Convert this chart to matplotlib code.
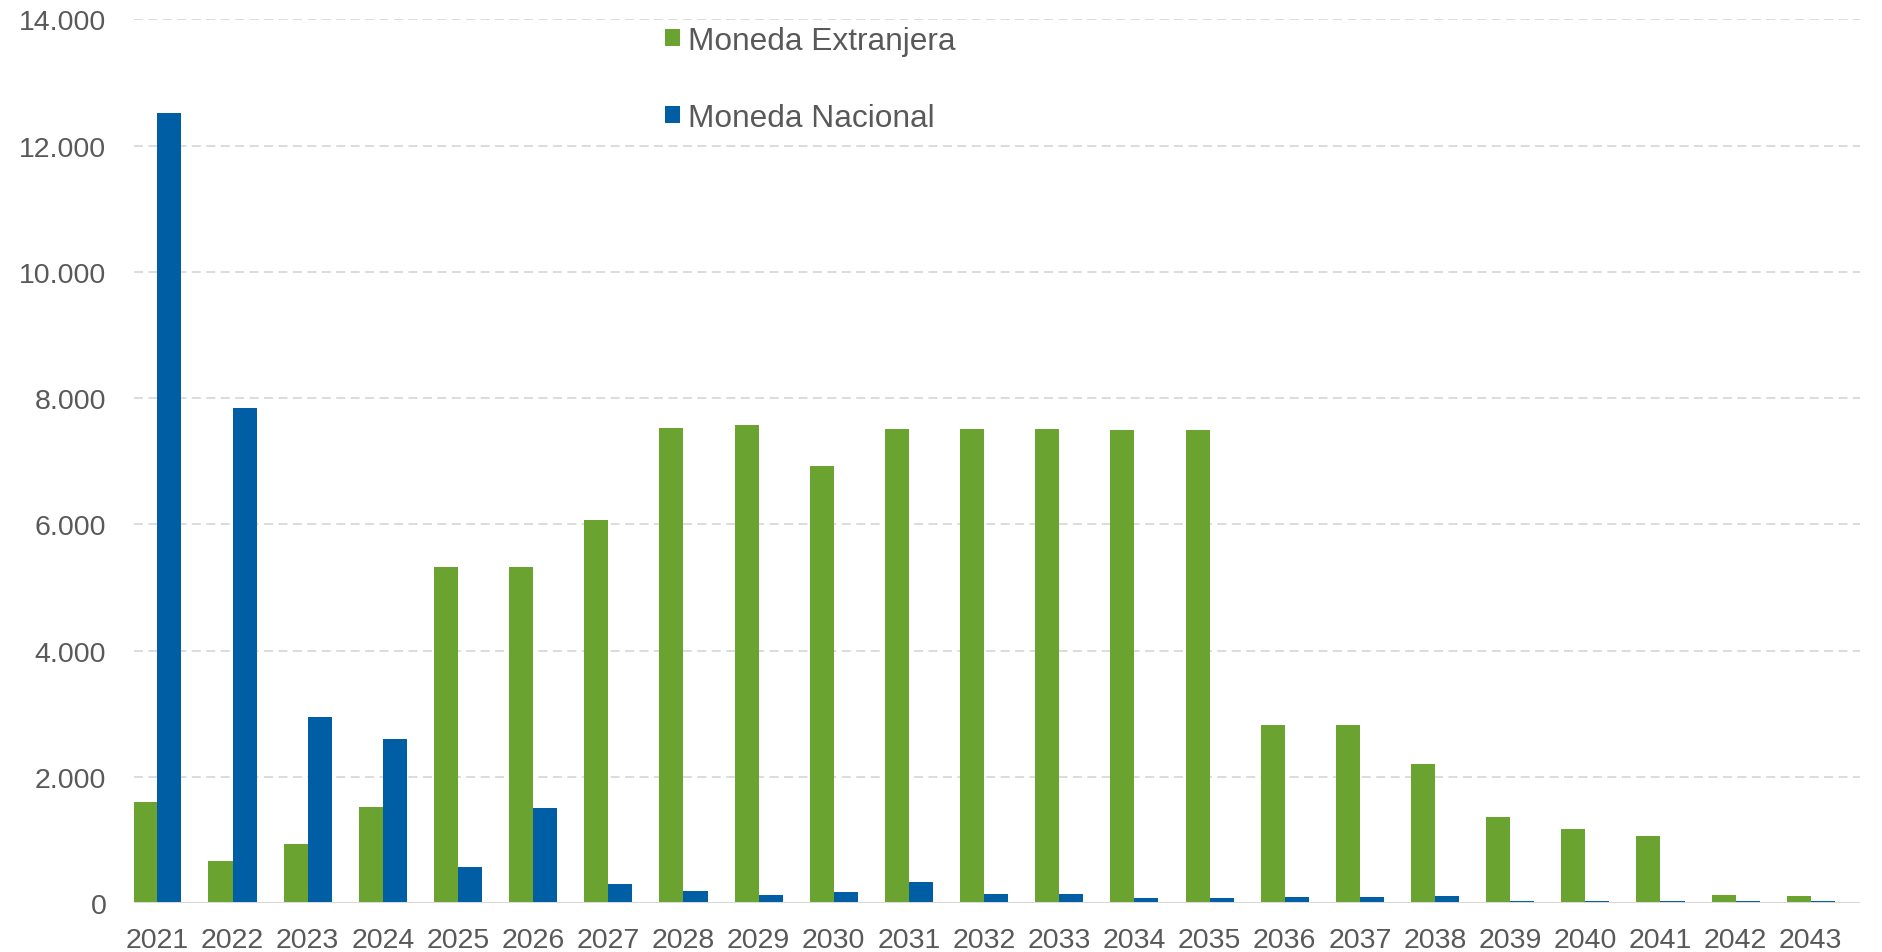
import numpy as np
import matplotlib
matplotlib.use("Agg")
import matplotlib.pyplot as plt
from matplotlib.ticker import FuncFormatter

plt.rcParams['font.family'] = ['Liberation Sans', 'DejaVu Sans']

years = [str(y) for y in range(2021, 2044)]
extranjera = [1600, 660, 930, 1520, 5325, 5325, 6065, 7530, 7570, 6920, 7515, 7515,
              7515, 7500, 7500, 2815, 2815, 2205, 1370, 1180, 1065, 130, 115]
nacional = [12515, 7840, 2945, 2605, 570, 1505, 300, 190, 120, 170, 340, 150,
            150, 75, 75, 95, 95, 115, 25, 25, 25, 25, 25]

green = '#6AA32F'
blue = '#005EA5'
txt = '#595959'

fig = plt.figure(figsize=(18.83, 9.53), dpi=100)
ax = fig.add_axes([0.0712, 0.0514, 0.9168, 0.9272])

x = np.arange(len(years))
w = 0.32
ax.bar(x - w / 2, extranjera, w, color=green, label='Moneda Extranjera', zorder=3)
ax.bar(x + w / 2, nacional, w, color=blue, label='Moneda Nacional', zorder=3)

ax.set_ylim(0, 14000)
ax.set_xlim(-0.31, len(years) - 1 + 0.66)
ax.set_yticks(np.arange(0, 14001, 2000))
ax.yaxis.set_major_formatter(FuncFormatter(lambda v, p: f"{int(v):,}".replace(",", ".")))
ax.set_xticks(x)
ax.set_xticklabels(years)

ax.grid(axis='y', color='#D9D9D9', linestyle=(0, (5, 3)), linewidth=1.3, zorder=0)
ax.axhline(0, color='#D9D9D9', linewidth=2.2, zorder=4)
for s in ax.spines.values():
    s.set_visible(False)
ax.tick_params(axis='both', length=0, labelsize=20.5, colors=txt)
ax.tick_params(axis='x', pad=17.5)
ax.tick_params(axis='y', pad=20)

leg = ax.legend(loc='upper left', bbox_to_anchor=(0.291, 1.025), frameon=False,
                fontsize=22.8, labelcolor=txt, handlelength=0.47, handleheight=0.42,
                handletextpad=0.27, labelspacing=1.48)

fig.savefig('out.png', dpi=100)
